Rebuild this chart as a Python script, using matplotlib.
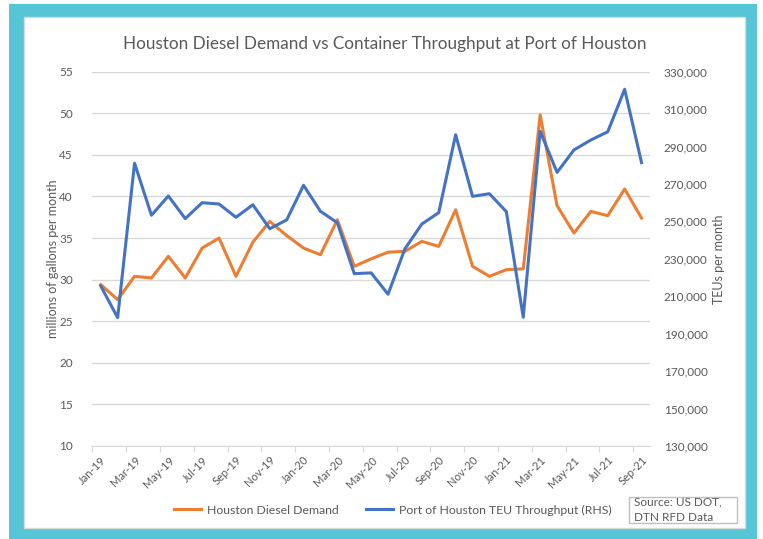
import matplotlib
matplotlib.use("Agg")
import matplotlib.pyplot as plt
from matplotlib.patches import Rectangle
from matplotlib.lines import Line2D

plt.rcParams["font.family"] = ["Lato", "DejaVu Sans"]

# monthly data, Jan-19 .. Sep-21
months = ["Jan-19", "Feb-19", "Mar-19", "Apr-19", "May-19", "Jun-19", "Jul-19", "Aug-19",
          "Sep-19", "Oct-19", "Nov-19", "Dec-19", "Jan-20", "Feb-20", "Mar-20", "Apr-20",
          "May-20", "Jun-20", "Jul-20", "Aug-20", "Sep-20", "Oct-20", "Nov-20", "Dec-20",
          "Jan-21", "Feb-21", "Mar-21", "Apr-21", "May-21", "Jun-21", "Jul-21", "Aug-21",
          "Sep-21"]
diesel = [29.4, 27.6, 30.4, 30.2, 32.8, 30.2, 33.8, 35.0, 30.4, 34.5, 37.0, 35.3,
          33.8, 33.0, 37.2, 31.6, 32.5, 33.3, 33.4, 34.6, 34.0, 38.4, 31.6, 30.4,
          31.2, 31.3, 49.8, 38.9, 35.6, 38.2, 37.7, 40.9, 37.4]
teu = [215500, 198600, 281100, 253300, 263600, 251500, 260000, 259300, 252200, 258900,
       246100, 250800, 269300, 255400, 249300, 222100, 222500, 211100, 235400, 248600,
       254700, 296300, 263400, 264800, 255200, 198800, 298200, 276200, 288200, 293500,
       297900, 320600, 281400]

left_ticks = [10, 15, 20, 25, 30, 35, 40, 45, 50, 55]
right_ticks = [130000, 150000, 170000, 190000, 210000, 230000, 250000, 270000, 290000,
               310000, 330000]

orange = "#ED7D31"
blue = "#4472C4"
grey_txt = "#595959"
grid_c = "#D9D9D9"
W, H = 763, 539

fig = plt.figure(figsize=(W / 100, H / 100), dpi=100, facecolor="white")

# cyan frame and inner white panel
fig.patches.append(Rectangle((9 / W, 0), (757 - 9) / W, 1 - 4 / H, transform=fig.transFigure,
                             facecolor="#56C6D7", edgecolor="none", zorder=-10))
fig.patches.append(Rectangle((24 / W, 1 - 528 / H), (745 - 24) / W, (528 - 17) / H,
                             transform=fig.transFigure, facecolor="white",
                             edgecolor=grid_c, linewidth=1, zorder=-9))

ax = fig.add_axes([92.3 / W, 1 - 446 / H, (650 - 92.3) / W, (446 - 71.7) / H])
ax.patch.set_alpha(0)
x = list(range(len(months)))
ax.plot(x, diesel, color=orange, lw=2.2, zorder=3)
ax.set_ylim(10, 55)
ax.set_xlim(-0.5, len(months) - 0.5)
ax.set_yticks(left_ticks)
ax.yaxis.grid(True, color=grid_c, lw=1)
ax.set_axisbelow(True)
for s in ["top", "right", "left"]:
    ax.spines[s].set_visible(False)
ax.spines["bottom"].set_color(grid_c)
ax.tick_params(axis="y", length=0, labelsize=8.5, labelcolor=grey_txt, pad=14)
ax.set_ylabel("millions of gallons per month", fontsize=9, color=grey_txt, labelpad=0)

# x ticks: marks on category boundaries, labels on every second month
ax.set_xticks([i - 0.5 for i in range(0, len(months) + 1, 2)])
ax.set_xticklabels([])
ax.tick_params(axis="x", which="major", length=4, color=grid_c)
ax.set_xticks(x[::2], minor=True)
ax.set_xticklabels(months[::2], minor=True, rotation=45, ha="right", rotation_mode="anchor",
                   fontsize=8, color=grey_txt)
ax.tick_params(axis="x", which="minor", length=0, pad=6)

ax2 = ax.twinx()
ax2.plot(x, teu, color=blue, lw=2.2, zorder=4)
ax2.set_ylim(130000, 330000)
ax2.set_yticks(right_ticks)
ax2.set_yticklabels([f"{v:,}" for v in right_ticks])
for s in ax2.spines.values():
    s.set_visible(False)
ax2.tick_params(axis="y", length=0, labelsize=8.5, labelcolor=grey_txt, pad=10)
ax2.set_ylabel("TEUs per month", fontsize=9, color=grey_txt, labelpad=4)

fig.text(385 / W, 1 - 44 / H, "Houston Diesel Demand vs Container Throughput at Port of Houston",
         ha="center", va="center", fontsize=12.3, color=grey_txt)

handles = [Line2D([], [], color=orange, lw=2.2), Line2D([], [], color=blue, lw=2.2)]
fig.legend(handles, ["Houston Diesel Demand", "Port of Houston TEU Throughput (RHS)"],
           loc="center", bbox_to_anchor=(393 / W, 1 - 510 / H), ncol=2, frameon=False,
           fontsize=8.8, labelcolor=grey_txt, handlelength=2.2, columnspacing=2.2,
           handletextpad=0.5)

fig.text(634 / W, 1 - 510 / H, "Source: US DOT,\nDTN RFD Data", ha="left", va="center",
         fontsize=8.5, color=grey_txt, linespacing=1.5)
fig.patches.append(Rectangle((629 / W, 1 - 523 / H), (737 - 629) / W, (523 - 497) / H,
                             transform=fig.transFigure, facecolor="white",
                             edgecolor="#BFBFBF", linewidth=1, zorder=-5))

fig.savefig("out.png", dpi=100, facecolor="white")
